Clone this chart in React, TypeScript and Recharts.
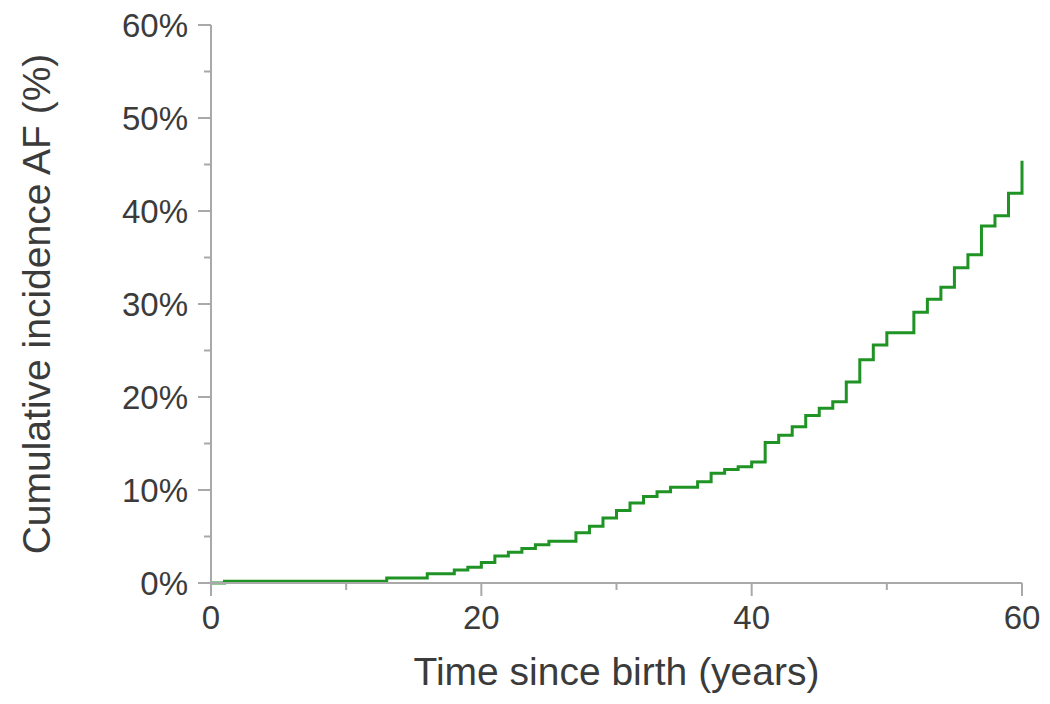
import React from 'react';
import { LineChart, Line, XAxis, YAxis } from 'recharts';

// Kaplan-Meier style step estimates
const ages = [
  0, 1, 13, 16, 18, 19, 20, 21, 22, 23, 24, 25, 27, 28, 29, 30, 31, 32, 33, 34, 36, 37, 38, 39, 40,
  41, 42, 43, 44, 45, 46, 47, 48, 49, 50, 52, 53, 54, 55, 56, 57, 58, 59, 60,
];
const incidence = [
  0.0, 0.2, 0.55, 1.0, 1.4, 1.7, 2.2, 2.9, 3.3, 3.7, 4.1, 4.5, 5.4, 6.1, 7.0, 7.8, 8.6, 9.3, 9.8, 10.3,
  10.9, 11.8, 12.2, 12.5, 13.0, 15.1, 15.9, 16.8, 18.0, 18.8, 19.5, 21.6, 24.0, 25.6, 26.9, 29.1, 30.5,
  31.8, 33.9, 35.3, 38.4, 39.5, 41.9, 45.4,
];
const xTicks = [0, 10, 20, 30, 40, 50, 60];
const xLabelled = [0, 20, 40, 60];
const yTicks = [0, 5, 10, 15, 20, 25, 30, 35, 40, 45, 50, 55, 60];
const yLabelled = [0, 10, 20, 30, 40, 50, 60];

const data = ages.map((age, i) => ({ age, value: incidence[i] }));

const FONT = '"Liberation Sans", Arial, sans-serif';
const AXIS = '#a9a9a9';
const TEXT = '#3b3b3b';
const TICK_SIZE = 13;
const TICK_MARGIN = 10;
const MINOR = 7;

function XTick(props: any) {
  const { x, y, payload } = props;
  const axisY = y - TICK_SIZE - TICK_MARGIN;
  const major = xLabelled.includes(payload.value);
  return (
    <g>
      <line x1={x} x2={x} y1={axisY} y2={axisY + (major ? TICK_SIZE : MINOR)} stroke={AXIS} strokeWidth={2} />
      {major && (
        <text x={x} y={y} dy="0.71em" textAnchor="middle" fill={TEXT} fontSize={33} fontFamily={FONT}>
          {payload.value}
        </text>
      )}
    </g>
  );
}

function YTick(props: any) {
  const { x, y, payload } = props;
  const axisX = x + TICK_SIZE + TICK_MARGIN;
  const major = yLabelled.includes(payload.value);
  return (
    <g>
      <line x1={axisX - (major ? TICK_SIZE : MINOR)} x2={axisX} y1={y} y2={y} stroke={AXIS} strokeWidth={2} />
      {major && (
        <text x={x} y={y} dy="0.355em" textAnchor="end" fill={TEXT} fontSize={33} fontFamily={FONT}>
          {`${payload.value}%`}
        </text>
      )}
    </g>
  );
}

export default function App() {
  return (
    <div style={{ position: 'absolute', left: 0, top: 0, background: '#fff' }}>
      <LineChart width={1050} height={704} data={data} margin={{ top: 25, right: 28, bottom: 0, left: 0 }}>
        <XAxis
          dataKey="age"
          type="number"
          domain={[0, 60]}
          ticks={xTicks}
          tick={<XTick />}
          tickLine={false}
          tickSize={TICK_SIZE}
          tickMargin={TICK_MARGIN}
          height={121}
          stroke={AXIS}
          strokeWidth={2}
          interval={0}
          label={{
            value: 'Time since birth (years)',
            position: 'insideBottom',
            offset: 19,
            style: { fontSize: 39, fontFamily: FONT, fill: TEXT },
          }}
        />
        <YAxis
          type="number"
          domain={[0, 60]}
          ticks={yTicks}
          tick={<YTick />}
          tickLine={false}
          tickSize={TICK_SIZE}
          tickMargin={TICK_MARGIN}
          width={211}
          stroke={AXIS}
          strokeWidth={2}
          interval={0}
          label={{
            value: 'Cumulative incidence AF (%)',
            angle: -90,
            position: 'insideLeft',
            offset: 36,
            style: { fontSize: 39, fontFamily: FONT, fill: TEXT, textAnchor: 'middle' },
          }}
        />
        <Line
          type="stepAfter"
          dataKey="value"
          stroke="#1f9324"
          strokeWidth={3}
          dot={false}
          isAnimationActive={false}
        />
      </LineChart>
    </div>
  );
}
